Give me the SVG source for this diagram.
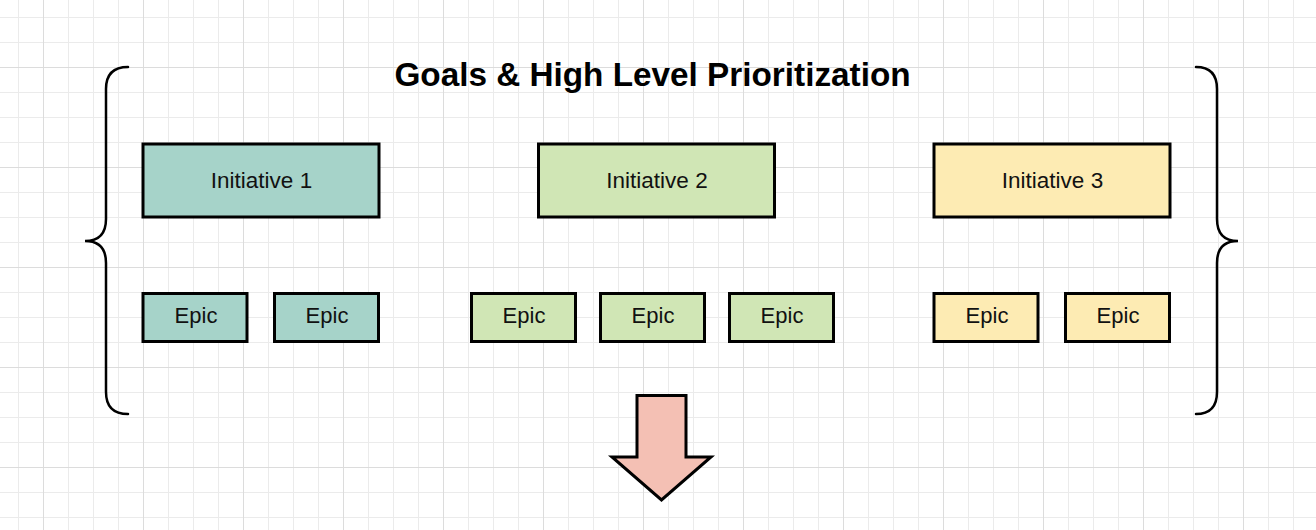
<svg xmlns="http://www.w3.org/2000/svg" width="1316" height="530" viewBox="0 0 1316 530">
  <defs>
    <pattern id="minor" patternUnits="userSpaceOnUse" x="18" y="17" width="25" height="25">
      <path d="M0.5,0 V25 M0,0.5 H25" stroke="#ebebeb" stroke-width="1" fill="none"/>
    </pattern>
    <pattern id="major" patternUnits="userSpaceOnUse" x="43" y="67" width="100" height="100">
      <path d="M0.5,0 V100 M0,0.5 H100" stroke="#dcdcdc" stroke-width="1" fill="none"/>
    </pattern>
  </defs>
  <style>
    .box { stroke: #000; stroke-width: 3; }
    .t1 { fill: #a6d3c9; }
    .t2 { fill: #d0e6b5; }
    .t3 { fill: #fdebb3; }
    .lbl { font-family: "Liberation Sans", Arial, sans-serif; font-size: 22px; fill: #111; text-anchor: middle; }
    .ini { font-size: 22.5px; }
    .title { font-family: "Liberation Sans", Arial, sans-serif; font-size: 33.3px; font-weight: bold; fill: #000; text-anchor: middle; }
    .brace { fill: none; stroke: #000; stroke-width: 2.5; stroke-linecap: round; }
  </style>
  <rect width="1316" height="530" fill="#ffffff"/>
  <rect width="1316" height="530" fill="url(#minor)"/>
  <rect width="1316" height="530" fill="url(#major)"/>

  <g id="title">
    <text class="title" x="652.5" y="86">Goals &amp; High Level Prioritization</text>
  </g>

  <g id="brace-left">
    <path class="brace" d="M128,67 Q106,67 106,89 L106,219 Q106,241 85,241 Q106,241 106,263 L106,392 Q106,414 128,414"/>
  </g>
  <g id="brace-right">
    <path class="brace" d="M1196,67 Q1217,67 1217,89 L1217,219 Q1217,241 1238,241 Q1217,241 1217,263 L1217,392 Q1217,414 1196,414"/>
  </g>

  <g id="initiative-1">
    <rect class="box t1" x="143" y="144" width="236" height="73"/>
    <text class="lbl ini" x="261.5" y="187.5">Initiative 1</text>
  </g>
  <g id="initiative-2">
    <rect class="box t2" x="538.5" y="144" width="236" height="73"/>
    <text class="lbl ini" x="657" y="187.5">Initiative 2</text>
  </g>
  <g id="initiative-3">
    <rect class="box t3" x="934" y="144" width="236" height="73"/>
    <text class="lbl ini" x="1052.5" y="187.5">Initiative 3</text>
  </g>

  <g id="epic-1a">
    <rect class="box t1" x="143" y="293.5" width="104" height="48"/>
    <text class="lbl" x="196" y="322.5">Epic</text>
  </g>
  <g id="epic-1b">
    <rect class="box t1" x="274.5" y="293.5" width="104" height="48"/>
    <text class="lbl" x="327" y="322.5">Epic</text>
  </g>
  <g id="epic-2a">
    <rect class="box t2" x="471.5" y="293.5" width="104" height="48"/>
    <text class="lbl" x="524" y="322.5">Epic</text>
  </g>
  <g id="epic-2b">
    <rect class="box t2" x="600.5" y="293.5" width="104" height="48"/>
    <text class="lbl" x="653" y="322.5">Epic</text>
  </g>
  <g id="epic-2c">
    <rect class="box t2" x="729.5" y="293.5" width="104" height="48"/>
    <text class="lbl" x="782" y="322.5">Epic</text>
  </g>
  <g id="epic-3a">
    <rect class="box t3" x="934" y="293.5" width="104" height="48"/>
    <text class="lbl" x="987" y="322.5">Epic</text>
  </g>
  <g id="epic-3b">
    <rect class="box t3" x="1065.5" y="293.5" width="104" height="48"/>
    <text class="lbl" x="1118" y="322.5">Epic</text>
  </g>

  <g id="connectors">
    <polygon id="down-arrow" points="637,395.5 686,395.5 686,457 711,457 661.5,500 612,457 637,457" fill="#f4c0b4" stroke="#000" stroke-width="3" stroke-linejoin="miter"/>
  </g>
</svg>
